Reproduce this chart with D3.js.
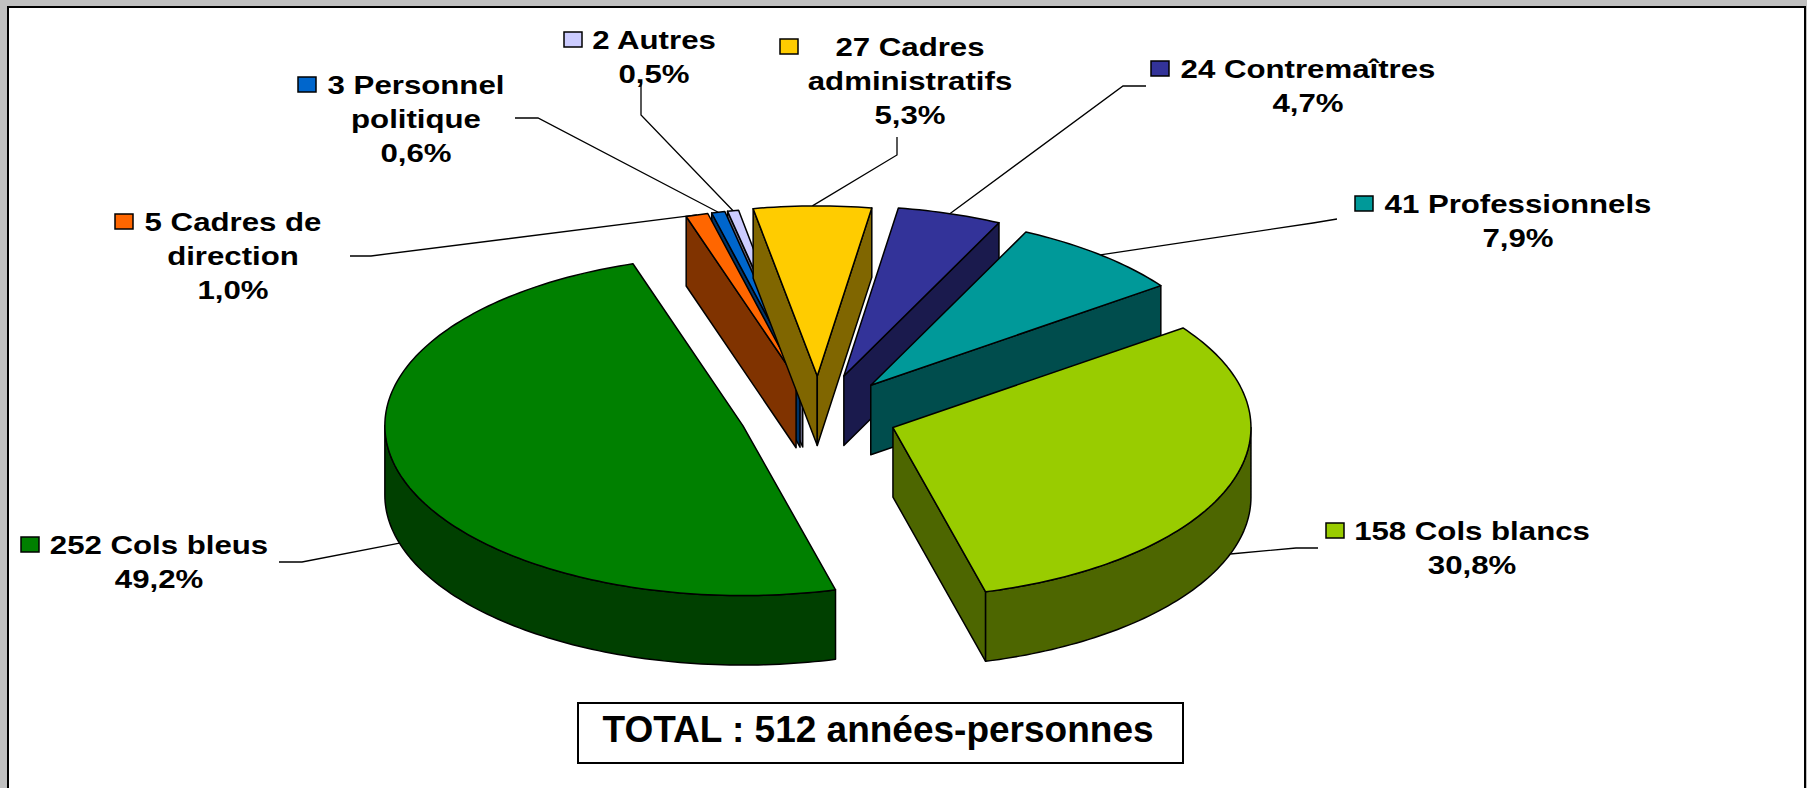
<!DOCTYPE html>
<html>
<head>
<meta charset="utf-8">
<script src="https://cdn.jsdelivr.net/npm/d3@7"></script>
<style>
  html, body { margin: 0; padding: 0; background: #c0c0c0; overflow: hidden; }
  svg { display: block; font-family: 'Liberation Sans', Arial, sans-serif; font-weight: bold; }
</style>
</head>
<body>
<svg class="chart" width="1807" height="788"></svg>
<script>
const categories = ['Cols bleus', 'Cadres de direction', 'Personnel politique', 'Autres', 'Cadres administratifs', 'Contremaîtres', 'Professionnels', 'Cols blancs']
const counts = [252, 5, 3, 2, 27, 24, 41, 158]
const shares = [49.2, 1.0, 0.6, 0.5, 5.3, 4.7, 7.9, 30.8]
const shareLabels = ['49,2%', '1,0%', '0,6%', '0,5%', '5,3%', '4,7%', '7,9%', '30,8%']
const topColors = ['#008000', '#ff6600', '#0066cc', '#ccccff', '#ffcc00', '#333399', '#009999', '#99cc00']
const sideColors = ['#004000', '#803300', '#003366', '#666680', '#806600', '#1a1a4d', '#004d4d', '#4d6600']
const totalLabel = 'TOTAL : 512 années-personnes'

// label wrapping, as in the original
const labelLines = [
  ['252 Cols bleus'],
  ['5 Cadres de', 'direction'],
  ['3 Personnel', 'politique'],
  ['2 Autres'],
  ['27 Cadres', 'administratifs'],
  ['24 Contremaîtres'],
  ['41 Professionnels'],
  ['158 Cols blancs']
]

const w = 1807
const h = 788
const cx = 818.4
const cy = 415
const rx = 358
const ry = 170
const depth = 69.5
const startDeg = 165
const explode = [0.22, 0.225, 0.225, 0.225, 0.23, 0.24, 0.228, 0.221]
const fontSize = 26
const stretch = 1.2
const lineHeight = 34

// label placement: text centre x, first line centre y, key centre x
const labelLayout = [
  { x: 159, y: 545, key: 30 },
  { x: 233, y: 222, key: 124 },
  { x: 416, y: 85, key: 307 },
  { x: 654, y: 40, key: 573 },
  { x: 910, y: 47, key: 789 },
  { x: 1308, y: 69, key: 1160 },
  { x: 1518, y: 204, key: 1364 },
  { x: 1472, y: 531, key: 1335 }
]
// leader line: start and elbow, the third point is on the slice
const leaderLayout = [
  [[279, 562], [302, 562]],
  [[350, 256], [371, 256]],
  [[515, 118], [538, 118]],
  [[641, 83], [641, 115]],
  [[897, 137], [897, 155]],
  [[1146, 86], [1123, 86]],
  [[1337, 219], [1313, 223]],
  [[1318, 548], [1296, 548]]
]

const xScale = d3.scaleLinear().domain([-1, 1]).range([-rx, rx])
const yScale = d3.scaleLinear().domain([-1, 1]).range([-ry, ry])
const lineGen = d3.line()

const svg = d3.select('.chart')

const slices = d3.pie()
  .sort(null)
  .startAngle(startDeg * Math.PI / 180)
  .endAngle((startDeg + 360) * Math.PI / 180)(shares)
  .map((s, i) => {
    const mid = (s.startAngle + s.endAngle) / 2
    return {
      i,
      a: s.startAngle,
      b: s.endAngle,
      mid,
      ox: cx + xScale(Math.sin(mid)) * explode[i],
      oy: cy - yScale(Math.cos(mid)) * explode[i]
    }
  })

const rimPoint = (s, t, drop = 0) => [s.ox + xScale(Math.sin(t)), s.oy - yScale(Math.cos(t)) + drop]
const arcPoints = (s, a, b, drop = 0) => {
  const n = Math.max(2, Math.ceil((b - a) / 0.02))
  return d3.range(n + 1).map(k => rimPoint(s, a + (b - a) * k / n, drop))
}

// frame
svg.append('rect')
  .attr('x', 8)
  .attr('y', 7)
  .attr('width', 1797)
  .attr('height', h)
  .attr('fill', '#fff')
  .attr('stroke', '#000')
  .attr('stroke-width', 2)

// leaders go under the slices
svg.selectAll('.leader')
  .data(slices)
  .enter()
  .append('path')
  .attr('class', 'leader')
  .attr('fill', 'none')
  .attr('stroke', '#000')
  .attr('stroke-width', 1.3)
  .attr('d', s => {
    const front = Math.cos(s.mid) < 0
    return lineGen([...leaderLayout[s.i], rimPoint(s, s.mid, front ? depth : 0)])
  })

const drawFace = (g, points, fill) => {
  g.append('path')
    .attr('d', lineGen(points) + 'Z')
    .attr('fill', fill)
    .attr('stroke', '#000')
    .attr('stroke-width', 1.5)
    .attr('stroke-linejoin', 'round')
}

// painter's order: thin slices right to left, then round to the front
const drawOrder = [3, 2, 1, 4, 5, 6, 7, 0].map(i => slices[i])

drawOrder.forEach(s => {
  const g = svg.append('g').attr('class', 'slice')
  const side = sideColors[s.i]
  const apex = [s.ox, s.oy]
  const apexLow = [s.ox, s.oy + depth]

  if (Math.sin(s.a) < 0) {
    drawFace(g, [apex, rimPoint(s, s.a), rimPoint(s, s.a, depth), apexLow], side)
  }
  if (Math.sin(s.b) > 0) {
    drawFace(g, [apex, rimPoint(s, s.b), rimPoint(s, s.b, depth), apexLow], side)
  }

  // rim, only the part facing the viewer
  const windows = [[Math.PI / 2, Math.PI * 3 / 2], [Math.PI * 5 / 2, Math.PI * 7 / 2]]
  windows.forEach(([lo, hi]) => {
    const a = Math.max(s.a, lo)
    const b = Math.min(s.b, hi)
    if (b > a) {
      drawFace(g, [...arcPoints(s, a, b), ...arcPoints(s, a, b, depth).reverse()], side)
    }
  })

  drawFace(g, [apex, ...arcPoints(s, s.a, s.b)], topColors[s.i])
})

// labels
const labels = svg.selectAll('.label')
  .data(slices)
  .enter()
  .append('g')
  .attr('class', 'label')

labels.append('rect')
  .attr('x', s => labelLayout[s.i].key - 9)
  .attr('y', s => labelLayout[s.i].y - 8)
  .attr('width', 18)
  .attr('height', 15)
  .attr('fill', s => topColors[s.i])
  .attr('stroke', '#000')
  .attr('stroke-width', 1.5)

labels.each(function (s) {
  const { x, y } = labelLayout[s.i]
  const lines = [...labelLines[s.i], shareLabels[s.i]]
  d3.select(this)
    .selectAll('text')
    .data(lines)
    .enter()
    .append('text')
    .attr('text-anchor', 'middle')
    .attr('transform', (_, k) => `translate(${x}, ${y + k * lineHeight + fontSize * 0.36}) scale(${stretch}, 1)`)
    .style('font-size', fontSize + 'px')
    .text(d => d)
})

// total box
svg.append('rect')
  .attr('x', 578)
  .attr('y', 703)
  .attr('width', 605)
  .attr('height', 60)
  .attr('fill', '#fff')
  .attr('stroke', '#000')
  .attr('stroke-width', 2)

svg.append('text')
  .attr('text-anchor', 'middle')
  .attr('x', 878)
  .attr('y', 742)
  .style('font-size', '37px')
  .text(totalLabel)
</script>
</body>
</html>
